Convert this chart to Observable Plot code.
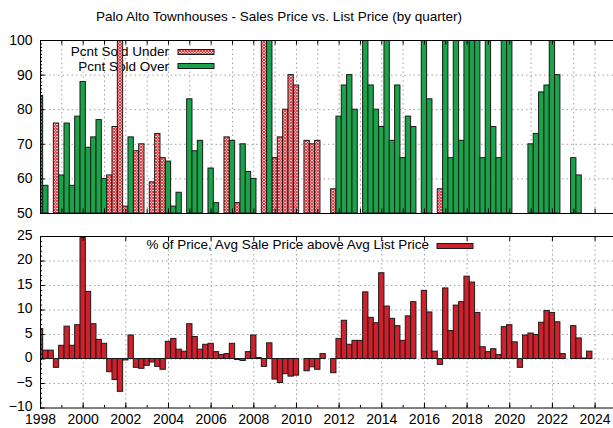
<!DOCTYPE html>
<html>
<head>
<meta charset="utf-8">
<script src="https://cdn.jsdelivr.net/npm/d3@7"></script>
<script src="https://cdn.jsdelivr.net/npm/@observablehq/plot@0.6"></script>
<style>
  body { margin: 0; background: #fff; font-family: "Liberation Sans", Arial, sans-serif; }
  #wrap { position: relative; width: 613px; height: 428px; overflow: hidden; background: #fff; }
  #title { position: absolute; left: 96px; top: 9px; font-size: 13.5px; color: #000; white-space: nowrap; }
  #top, #bottom { position: absolute; left: 0; }
  #top { top: 0; }
  #bottom { top: 220px; }
</style>
</head>
<body>
<div id="wrap">
  <div id="top"></div>
  <div id="bottom"></div>
  <div id="title">Palo Alto Townhouses - Sales Price vs. List Price (by quarter)</div>
</div>
<script>
// ---------------- data (quarterly, Q1 1998 .. Q4 2023) ----------------
const startYear = 1998;

// Percent of sales sold under list (only values above 50 are visible)
const pcntSoldUnder = [
  null, null, null, 76,     // 1998
  null, null, null, null,   // 1999
  null, null, null, null,   // 2000
  null, 61, 75, 100,        // 2001
  52, null, 68, 70,         // 2002
  null, 59, 73, 66,         // 2003
  null, null, null, null,   // 2004
  null, null, null, null,   // 2005
  null, null, null, 72,     // 2006
  null, 53, null, null,     // 2007
  null, null, 100, null,    // 2008
  66, 72, 80, 90,           // 2009
  87, null, 71, 70,         // 2010
  71, null, null, 57,       // 2011
  null, null, null, null,   // 2012
  null, null, null, null,   // 2013
  null, null, null, null,   // 2014
  null, null, null, null,   // 2015
  null, null, null, 57,     // 2016
  null, null, null, null,   // 2017
  null, null, null, null,   // 2018
  null, null, null, null,   // 2019
  null, null, null, null,   // 2020
  null, null, null, null,   // 2021
  null, null, null, null,   // 2022
  null, null, null, null    // 2023
];

// Percent of sales sold over list
const pcntSoldOver = [
  84, 58, null, null,       // 1998
  61, 76, 58, 78,           // 1999
  88, 69, 72, 77,           // 2000
  60, null, null, null,     // 2001
  null, 72, null, null,     // 2002
  null, null, null, null,   // 2003
  65, 52, 56, null,         // 2004
  83, 68, 71, null,         // 2005
  63, 53, null, null,       // 2006
  71, null, 70, 62,         // 2007
  60, null, null, 100,      // 2008
  null, null, null, null,   // 2009
  null, null, null, null,   // 2010
  null, null, null, null,   // 2011
  78, 87, 90, 80,           // 2012
  null, 100, 87, 80,        // 2013
  75, 100, 71, 87,          // 2014
  66, 78, 75, null,         // 2015
  100, 83, null, null,      // 2016
  100, 66, 100, 71,         // 2017
  100, 100, 100, 66,        // 2018
  100, 75, 66, 100,         // 2019
  100, null, null, null,    // 2020
  70, 73, 85, 87,           // 2021
  100, 90, null, null,      // 2022
  66, 61, null, null        // 2023
];

// % of price, avg sale price above avg list price
const pctAboveList = [
  6.1, 1.7, 1.7, -1.8,      // 1998
  2.7, 6.6, 2.7, 6.9,       // 1999
  24.7, 13.7, 7.1, 3.9,     // 2000
  3.1, -2.7, -4.3, -6.7,    // 2001
  -0.3, 4.8, -1.8, -2.0,    // 2002
  -1.4, -0.7, -1.6, -2.2,   // 2003
  3.5, 4.1, 1.9, 1.5,       // 2004
  7.1, 4.5, 1.9, 2.9,       // 2005
  3.1, 1.4, 0.8, 1.0,       // 2006
  3.1, -0.2, -0.4, 1.4,     // 2007
  4.8, 0.2, -1.6, 3.2,      // 2008
  -4.2, -4.9, -3.1, -3.6,   // 2009
  -3.4, null, -2.5, -1.7,   // 2010
  -2.2, 1.0, null, -2.9,    // 2011
  4.1, 7.8, 2.9, 3.7,       // 2012
  3.7, 13.6, 8.4, 7.3,      // 2013
  17.5, 10.7, 8.2, 6.7,     // 2014
  3.7, 8.7, 11.6, null,     // 2015
  13.9, 9.5, 1.5, -1.2,     // 2016
  14.4, 5.7, 10.9, 11.6,    // 2017
  16.8, 15.6, 9.4, 2.4,     // 2018
  1.4, 2.0, 0.8, 6.5,       // 2019
  6.9, 3.4, -1.8, 4.8,      // 2020
  5.2, 4.9, 7.4, 9.8,       // 2021
  9.4, 7.5, 1.0, null,      // 2022
  6.7, 4.2, 0.1, 1.5        // 2023
];

const topYTicks = [50, 60, 70, 80, 90, 100];
const bottomYTicks = [-10, -5, 0, 5, 10, 15, 20, 25];
const xTickLabels = [1998, 2000, 2002, 2004, 2006, 2008, 2010, 2012, 2014, 2016, 2018, 2020, 2022, 2024];
const yearTicks = [1998, 1999, 2000, 2001, 2002, 2003, 2004, 2005, 2006, 2007, 2008, 2009, 2010, 2011,
                   2012, 2013, 2014, 2015, 2016, 2017, 2018, 2019, 2020, 2021, 2022, 2023, 2024];
const topMinorTicks = d3.range(50, 101, 1);
const bottomMinorTicks = d3.range(-10, 26, 1);
const legendTopLabels = ["Pcnt Sold Under", "Pcnt Sold Over"];
const legendBottomLabel = "% of Price, Avg Sale Price above Avg List Price";

// ---------------- styling ----------------
const FONT = "Liberation Sans, Arial, sans-serif";
const GREEN = "#1ba34a";
const RED = "#d0202c";
const OUTLINE = "#1a1a1a";
const GRID = "#a0a0a0";
const DASH = "1.5,3";
const xDomain = [1998, 1998 + 573 / 21.33];
const Q = 0.125; // half a quarter, in years

const quarterOf = i => startYear + i / 4;
const underRows = pcntSoldUnder.map((v, i) => ({t: quarterOf(i), v})).filter(d => d.v != null);
const overRows = pcntSoldOver.map((v, i) => ({t: quarterOf(i), v})).filter(d => d.v != null);
const pctRows = pctAboveList.map((v, i) => ({t: quarterOf(i), v})).filter(d => d.v != null);

function keyEntry(entries) {
  return () => {
    const g = d3.create("svg:g");
    for (const e of entries) {
      g.append("text")
        .attr("x", e.tx).attr("y", e.ty)
        .attr("text-anchor", "end")
        .attr("font-family", FONT)
        .attr("font-size", 13.5)
        .attr("fill", "#000")
        .text(e.label);
      g.append("rect")
        .attr("x", e.sx).attr("y", e.sy)
        .attr("width", e.sw).attr("height", e.sh)
        .attr("fill", e.fill)
        .attr("stroke", OUTLINE)
        .attr("stroke-width", 1);
    }
    return g.node();
  };
}

// ---------------- top panel ----------------
const topSvg = Plot.plot({
  width: 613, height: 220,
  marginLeft: 40, marginRight: 0, marginTop: 40, marginBottom: 7,
  style: {fontFamily: FONT, fontSize: "13px", color: "#000", background: "transparent", overflow: "visible"},
  x: {domain: xDomain, axis: null},
  y: {domain: [50, 100], axis: null},
  marks: [
    Plot.gridX(yearTicks.slice(1), {stroke: GRID, strokeOpacity: 1, strokeDasharray: DASH}),
    Plot.gridY(topYTicks.slice(1, -1), {stroke: GRID, strokeOpacity: 1, strokeDasharray: DASH}),
    keyEntry([
      {label: legendTopLabels[0], fill: "url(#xhatch)", tx: 169, ty: 56, sx: 178, sy: 49.5, sw: 36, sh: 5},
      {label: legendTopLabels[1], fill: GREEN, tx: 169, ty: 70.5, sx: 178, sy: 63.5, sw: 36, sh: 5}
    ]),
    Plot.rect(underRows, {x1: d => d.t - Q, x2: d => d.t + Q, y1: 50, y2: "v",
      fill: "url(#xhatch)", stroke: OUTLINE, strokeWidth: 1, clip: true}),
    Plot.rect(overRows, {x1: d => d.t - Q, x2: d => d.t + Q, y1: 50, y2: "v",
      fill: GREEN, stroke: OUTLINE, strokeWidth: 1, clip: true}),
    Plot.ruleY(topMinorTicks, {x1: xDomain[0], x2: xDomain[0] + 0.1, stroke: "#000"}),
    Plot.ruleY(topYTicks, {x1: xDomain[0], x2: xDomain[0] + 0.22, stroke: "#000"}),
    Plot.ruleX(yearTicks, {y1: 50, y2: 51.3, stroke: "#000"}),
    Plot.ruleX(yearTicks, {y1: 98.7, y2: 100, stroke: "#000"}),
    Plot.ruleX([xDomain[0]], {stroke: "#000"}),
    Plot.ruleY([50, 100], {stroke: "#000"}),
    Plot.axisY(topYTicks, {tickSize: 0, tickPadding: 8, fontSize: 14, label: null})
  ]
});
d3.select(topSvg).insert("defs", ":first-child").html(`
  <pattern id="xhatch" patternUnits="userSpaceOnUse" width="3" height="3">
    <rect width="3" height="3" fill="#fff4f4"/>
    <path d="M0,0 L3,3 M3,0 L0,3" stroke="#e23a40" stroke-width="1.1"/>
  </pattern>`);
document.getElementById("top").append(topSvg);

// ---------------- bottom panel ----------------
const bottomSvg = Plot.plot({
  width: 613, height: 208,
  marginLeft: 40, marginRight: 0, marginTop: 16, marginBottom: 20.5,
  style: {fontFamily: FONT, fontSize: "14px", color: "#000", background: "transparent", overflow: "visible"},
  x: {domain: xDomain},
  y: {domain: [-10, 25]},
  marks: [
    Plot.gridX(xTickLabels.slice(1), {stroke: GRID, strokeOpacity: 1, strokeDasharray: DASH}),
    Plot.gridY(bottomYTicks.slice(1), {stroke: GRID, strokeOpacity: 1, strokeDasharray: DASH}),
    keyEntry([
      {label: legendBottomLabel, fill: RED, tx: 429, ty: 29, sx: 437, sy: 23.5, sw: 36, sh: 5}
    ]),
    Plot.rect(pctRows, {x1: d => d.t - Q, x2: d => d.t + Q, y1: 0, y2: "v",
      fill: RED, stroke: OUTLINE, strokeWidth: 1, clip: true}),
    Plot.ruleY(bottomMinorTicks, {x1: xDomain[0], x2: xDomain[0] + 0.1, stroke: "#000"}),
    Plot.ruleY(bottomYTicks, {x1: xDomain[0], x2: xDomain[0] + 0.22, stroke: "#000"}),
    Plot.ruleX(yearTicks, {y1: -10, y2: -9.5, stroke: "#000"}),
    Plot.ruleX(xTickLabels, {y1: -10, y2: -9.0, stroke: "#000"}),
    Plot.ruleX(xTickLabels, {y1: 24.0, y2: 25, stroke: "#000"}),
    Plot.ruleX([xDomain[0]], {stroke: "#000"}),
    Plot.ruleY([-10, 25], {stroke: "#000"}),
    Plot.axisY(bottomYTicks, {tickSize: 0, tickPadding: 8, fontSize: 14, label: null, dy: -1}),
    Plot.axisX(xTickLabels, {tickSize: 0, tickPadding: 6, fontSize: 14, label: null, tickFormat: d => String(d)})
  ]
});
document.getElementById("bottom").append(bottomSvg);
</script>
</body>
</html>
